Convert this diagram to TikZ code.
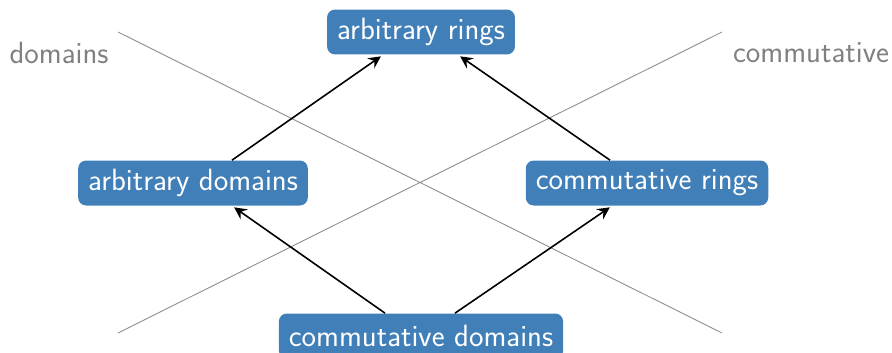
\documentclass[tikz,border=0pt]{standalone}
\usetikzlibrary{arrows.meta}
\definecolor{boxblue}{HTML}{407FB8}
\begin{document}
\begin{tikzpicture}[x=0.02cm,y=-0.02cm,
    font=\sffamily\fontsize{17.5}{21}\selectfont,
    box/.style={fill=boxblue,text=white,rounded corners=0.16cm,
      minimum height=0.9cm,inner xsep=0.2cm},
    side/.style={text=gray},
    >={Stealth[length=7pt,width=7pt,inset=2.5pt]}]
  \useasboundingbox (0,0) rectangle (892,352);
  % the two crossing separators
  \coordinate (a1) at (118,32);
  \coordinate (a2) at (722,333);
  \coordinate (b1) at (118,333);
  \coordinate (b2) at (722,32);
  \draw[gray!90,line width=0.5pt] (a1) -- (a2) (b1) -- (b2);
  \path
    (59,53) node[side] (dl){domains}
    (811,53) node[side] (cl){commutative}
    (421,32) node[box] (ar){arbitrary rings}
    (193,183) node[box] (ad){arbitrary domains}
    (647,183) node[box] (cr){commutative rings}
    (421,336) node[box] (cd){commutative domains};
  \begin{scope}[->,line width=0.9pt,shorten >=1.5pt]
    \draw ([xshift=-0.72cm]cd.north) to ([xshift=0.78cm]ad.south);
    \draw ([xshift=0.68cm]cd.north) to ([xshift=-0.70cm]cr.south);
    \draw ([xshift=0.78cm]ad.north) to ([xshift=-0.76cm]ar.south);
    \draw ([xshift=-0.74cm]cr.north) to ([xshift=0.74cm]ar.south);
  \end{scope}
\end{tikzpicture}
\end{document}
